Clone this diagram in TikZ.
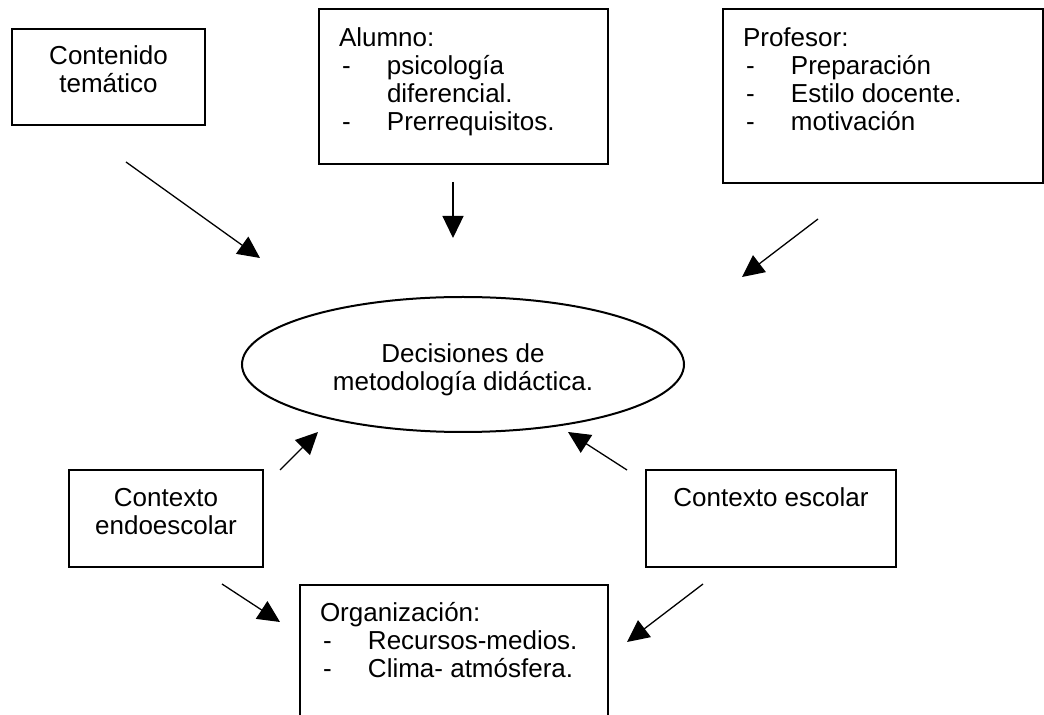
\documentclass[tikz,border=0pt]{standalone}
\usepackage{fontspec}
\setmainfont{Liberation Sans}
\usetikzlibrary{arrows.meta,shapes.geometric}
\newcommand{\bxt}[4]{\parbox[c][#2][t]{#1}{\fontsize{13}{14.15}\selectfont\vspace*{#3}#4}}
\newcommand{\itm}{\hspace*{1.5pt}\makebox[22.5pt][l]{-}}
\newcommand{\cnt}{\hspace*{24pt}}
\begin{document}
\begin{tikzpicture}[x=0.5pt,y=-0.5pt,
  box/.style={draw,line width=1pt,inner sep=0pt,anchor=north west},
  arr/.style={-{Triangle[length=11pt,width=10.5pt]},line width=0.65pt}]
\useasboundingbox (0,0) rectangle (1044,715);
\clip (0,0) rectangle (1044,715);

\node[box] (contenido) at (11,28)
  {\bxt{96.5pt}{48pt}{7.6pt}{\centering\strut Contenido\\temático}};
\node[box] (alumno) at (318,8)
  {\bxt{144.5pt}{77.5pt}{8.6pt}{\leftskip=10pt\strut Alumno:\\\itm psicología\\\cnt diferencial.\\\itm Prerrequisitos.}};
\node[box] (profesor) at (722,8)
  {\bxt{160pt}{87pt}{8.6pt}{\leftskip=10pt\strut Profesor:\\\itm Preparación\\\itm Estilo docente.\\\itm motivación}};
\node[draw,ellipse,line width=1pt,minimum width=221pt,minimum height=67.5pt,inner sep=0pt] (dec) at (463,364.5)
  {\fontsize{13}{14.15}\selectfont\begin{tabular}{@{}c@{}}\rule{0pt}{15.9pt}Decisiones de\\metodología didáctica.\end{tabular}};
\node[box] (endo) at (68,469)
  {\bxt{97pt}{48.5pt}{8.1pt}{\centering\strut Contexto\\endoescolar}};
\node[box] (escolar) at (645,469)
  {\bxt{125pt}{48.5pt}{8.3pt}{\centering\strut Contexto escolar}};
\node[box] (org) at (299,584)
  {\bxt{154pt}{75pt}{8.1pt}{\leftskip=10pt\strut Organización:\\\itm Recursos-medios.\\\itm Clima- atmósfera.}};

\coordinate (a1s) at (126,162); \coordinate (a1e) at (260,258);
\coordinate (a2s) at (453,182); \coordinate (a2e) at (453,238);
\coordinate (a3s) at (818,219); \coordinate (a3e) at (742,277);
\coordinate (a4s) at (280,470); \coordinate (a4e) at (318,432);
\coordinate (a5s) at (627,470); \coordinate (a5e) at (568,432);
\coordinate (a6s) at (222,584); \coordinate (a6e) at (280,622);
\coordinate (a7s) at (703,584); \coordinate (a7e) at (627,642);

\draw[arr] (a1s) -- (a1e);
\draw[arr] (a2s) -- (a2e);
\draw[arr] (a3s) -- (a3e);
\draw[arr] (a4s) -- (a4e);
\draw[arr] (a5s) -- (a5e);
\draw[arr] (a6s) -- (a6e);
\draw[arr] (a7s) -- (a7e);
\end{tikzpicture}
\end{document}
